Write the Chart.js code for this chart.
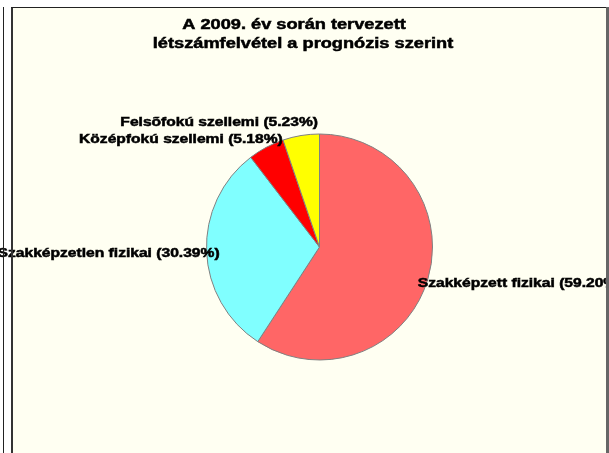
<!DOCTYPE html>
<html>
<head>
<meta charset="utf-8">
<script src="https://cdn.jsdelivr.net/npm/chart.js@4/dist/chart.umd.min.js"></script>
<style>
  html, body { margin: 0; padding: 0; background: #ffffff; width: 609px; height: 453px; overflow: hidden; }
  #outer { position: absolute; left: 3px; top: 7px; width: 1px; height: 446px; background: #222; z-index: 3; }
  #fill { position: absolute; left: 11px; top: 7px; width: 598px; height: 446px; background: #fffff2; z-index: 0; }
  #frameL { position: absolute; left: 11px; top: 7px; width: 2px; height: 446px; background: #333; z-index: 3; }
  #frameT { position: absolute; left: 11px; top: 7px; width: 595px; height: 1px; background: #222; z-index: 3; }
  #frameR { position: absolute; left: 606px; top: 7px; width: 3px; height: 446px; background: #666; z-index: 3; }
  #wrap { position: absolute; left: 0; top: 0; width: 609px; height: 453px; z-index: 1; }
</style>
</head>
<body>
<div id="fill"></div>
<div id="wrap"><canvas id="c" width="609" height="453"></canvas></div>
<div id="outer"></div>
<div id="frameL"></div>
<div id="frameT"></div>
<div id="frameR"></div>
<script>
// ---- data ----
const categories = ['Szakképzett fizikai', 'Szakképzetlen fizikai', 'Középfokú szellemi', 'Felsõfokú szellemi'];
const shares = [59.20, 30.39, 5.18, 5.23];
const titleLines = ['A 2009. év során tervezett', 'létszámfelvétel a prognózis szerint'];
const sliceColors = ['#ff6666', '#80ffff', '#ff0000', '#ffff00'];

const STRETCH = 1.3;

function stretchedText(ctx, text, x, y, align, font) {
  ctx.save();
  ctx.font = font;
  ctx.fillStyle = '#000';
  ctx.strokeStyle = '#000';
  ctx.lineWidth = 0.5;
  ctx.textBaseline = 'middle';
  ctx.translate(x, y);
  ctx.scale(STRETCH, 1);
  ctx.textAlign = align;
  ctx.fillText(text, 0, 0);
  ctx.strokeText(text, 0, 0);
  ctx.restore();
}

const labelPlugin = {
  id: 'xlLabels',
  afterDraw(chart, args, opts) {
    const ctx = chart.ctx;
    // title
    opts.titleLines.forEach((t, i) => {
      stretchedText(ctx, t, opts.titleX[i], opts.titleY[i], 'center', 'bold 14px "Liberation Sans", Arial, sans-serif');
    });
    // slice labels anchored to each arc's outer edge
    const meta = chart.getDatasetMeta(0);
    meta.data.forEach((arc, i) => {
      const p = arc.getProps(['x', 'y', 'startAngle', 'endAngle', 'outerRadius'], true);
      const mid = (p.startAngle + p.endAngle) / 2;
      const ax = p.x + Math.cos(mid) * p.outerRadius;
      const ay = p.y + Math.sin(mid) * p.outerRadius;
      const off = opts.offsets[i];
      const txt = chart.data.labels[i] + ' (' + chart.data.datasets[0].data[i].toFixed(2) + '%)';
      stretchedText(ctx, txt, ax + off[0], ay + off[1], off[2], 'bold 12px "Liberation Sans", Arial, sans-serif');
    });
  }
};

new Chart(document.getElementById('c'), {
  type: 'pie',
  data: {
    labels: categories,
    datasets: [{
      data: shares,
      backgroundColor: sliceColors,
      borderColor: '#808080',
      borderWidth: 1,
      hoverOffset: 0
    }]
  },
  options: {
    responsive: false,
    animation: false,
    events: [],
    layout: { padding: { top: 133.5, bottom: 92.5, left: 100, right: 70 } },
    plugins: {
      legend: { display: false },
      title: { display: false },
      tooltip: { enabled: false },
      xlLabels: {
        titleLines: titleLines,
        titleX: [294, 303],
        titleY: [25.5, 44.5],
        offsets: [[-10, 4, 'left'], [13, 2, 'right'], [16.6, -7.8, 'right'], [17, -12.5, 'right']]
      }
    }
  },
  plugins: [labelPlugin]
});
</script>
</body>
</html>
